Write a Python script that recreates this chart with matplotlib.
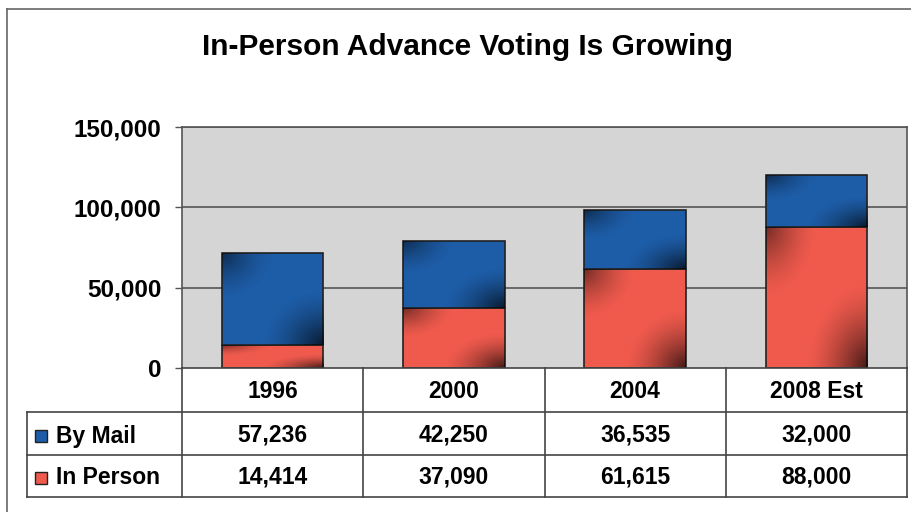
import matplotlib; matplotlib.use('Agg')
import matplotlib.pyplot as plt
import matplotlib.transforms as mtransforms
from matplotlib.lines import Line2D
from matplotlib.patches import Rectangle
import numpy as np

plt.rcParams['font.family'] = ['Liberation Sans', 'DejaVu Sans']

years = ['1996', '2000', '2004', '2008 Est']
by_mail = [57236, 42250, 36535, 32000]
in_person = [14414, 37090, 61615, 88000]
series_names = ['By Mail', 'In Person']
yticks = [0, 50000, 100000, 150000]

BLUE = '#1d5ca6'
RED = '#ef5a4d'
GRID = '#555555'
W, H = 911, 512

fig = plt.figure(figsize=(W/100, H/100), dpi=100)
fig.patch.set_facecolor('white')
ax = fig.add_axes([182/W, 144/H, 725/W, 241/H])
ax.set_facecolor('#d5d5d5')

def fy(px):
    return 1 - px/H

x = np.arange(len(years))
bw = 0.56
b1 = ax.bar(x, in_person, bw, color=RED, edgecolor='#222222', lw=1.2, zorder=3)
b2 = ax.bar(x, by_mail, bw, bottom=in_person, color=BLUE, edgecolor='#222222', lw=1.2, zorder=3)

# corner shading on each bar segment
n = 120
uu, vv = np.meshgrid(np.linspace(0, 1, n), np.linspace(0, 1, n))
d1 = np.clip(1 - np.hypot(1 - uu, vv) / 0.6, 0, 1)
d2 = np.clip(1 - np.hypot(uu, 1 - vv) / 0.5, 0, 1) * 0.8
shade = np.zeros((n, n, 4))
shade[..., 3] = 0.72 * np.maximum(d1, d2) ** 1.5
for bars in (b1, b2):
    for r in bars:
        x0, y0 = r.get_x(), r.get_y()
        im = ax.imshow(shade, extent=(x0, x0 + r.get_width(), y0, y0 + r.get_height()),
                       origin='lower', aspect='auto', zorder=3.5, interpolation='bilinear')
        im.set_clip_path(r)

ax.set_xlim(-0.5, len(years) - 0.5)
ax.set_ylim(0, 150000)
ax.set_yticks(yticks)
ax.set_yticklabels([f'{v:,}' for v in yticks], fontsize=17.5, fontweight='bold')
ax.tick_params(axis='y', length=5, width=1, color=GRID, pad=10)
ax.set_xticks([])
for v in yticks[1:]:
    ax.axhline(v, color=GRID, lw=1.2, zorder=1)
for s in ['left', 'right', 'top']:
    ax.spines[s].set_color(GRID)
    ax.spines[s].set_linewidth(1.2)
ax.spines['bottom'].set_visible(False)

# data table under the plot
tr = mtransforms.blended_transform_factory(ax.transData, fig.transFigure)
lc = '#444444'
rows_y = [368, 412, 455, 497]
for xb in np.arange(len(years) + 1) - 0.5:
    fig.add_artist(Line2D([xb, xb], [fy(rows_y[0]), fy(rows_y[-1])], transform=tr, color=lc, lw=1.2))
fig.add_artist(Line2D([-0.5, len(years) - 0.5], [fy(rows_y[0])] * 2, transform=tr, color=lc, lw=1.2))
for ry in rows_y[1:]:
    fig.add_artist(Line2D([27/W, 1 - 4/W], [fy(ry)] * 2, transform=fig.transFigure, color=lc, lw=1.2))
fig.add_artist(Line2D([27/W, 27/W], [fy(rows_y[1]), fy(rows_y[-1])], transform=fig.transFigure, color=lc, lw=1.2))

fs = 16.5
for i, yr in enumerate(years):
    fig.text(x[i], fy(391), yr, transform=tr, ha='center', va='center', fontsize=fs, fontweight='bold')
    fig.text(x[i], fy(435), f'{by_mail[i]:,}', transform=tr, ha='center', va='center', fontsize=fs, fontweight='bold')
    fig.text(x[i], fy(477), f'{in_person[i]:,}', transform=tr, ha='center', va='center', fontsize=fs, fontweight='bold')

for name, col, ycen in zip(series_names, [BLUE, RED], [436, 478]):
    fig.add_artist(Rectangle((35/W, fy(ycen + 6)), 12/W, 12/H, transform=fig.transFigure,
                             facecolor=col, edgecolor='#222222', lw=1))
    fig.text(56/W, fy(ycen), name, ha='left', va='center', fontsize=fs, fontweight='bold')

# outer chart border
fig.add_artist(Line2D([7/W, 7/W], [0, fy(9)], transform=fig.transFigure, color='#666666', lw=1.2))
fig.add_artist(Line2D([7/W, 1], [fy(9), fy(9)], transform=fig.transFigure, color='#666666', lw=1.2))

fig.text(467/W, fy(47), 'In-Person Advance Voting Is Growing', ha='center', va='center',
         fontsize=21.5, fontweight='bold')

fig.savefig('out.png', dpi=100, facecolor='white')
